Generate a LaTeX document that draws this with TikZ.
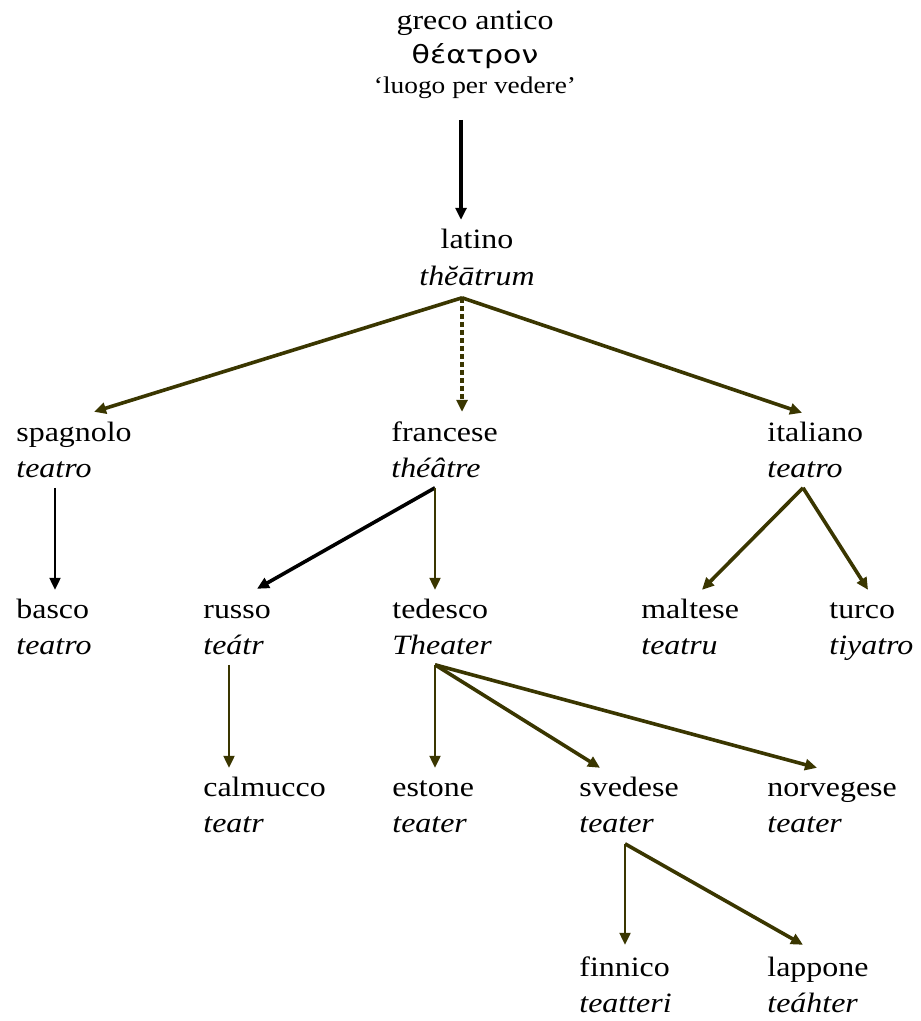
\documentclass[tikz,border=0pt]{standalone}
\usepackage{fontspec}
\setmainfont[FakeStretch=1.14]{Liberation Serif}
\newfontfamily\greekfont[FakeStretch=1.2]{DejaVu Sans}
\usetikzlibrary{arrows.meta,calc}
\definecolor{arrowolive}{RGB}{58,54,0}
\begin{document}
\begin{tikzpicture}[x=0.5pt,y=-0.5pt,
  lang/.style={anchor=north west, inner sep=0pt, align=left, font=\fontsize{14}{18}\selectfont},
  head/.style={anchor=north, inner sep=0pt, align=center, font=\fontsize{14}{18}\selectfont},
  conn/.style={-{Triangle[length=6pt,width=5.5pt]}},
  heavy/.style={conn, line width=1.8pt},
  light/.style={conn, line width=1.1pt},
  oli/.style={draw=arrowolive, -{Triangle[length=6pt,width=5.5pt,fill=arrowolive]}},
  blk/.style={draw=black}
]
\path[use as bounding box, fill=white] (0,0) rectangle (920,1021);

% nodes
\node[head] (greco) at (475,3.8) {\strut greco antico\\[-1pt]{\greekfont\fontsize{12.5}{18}\selectfont θέατρον}\\[-3pt]{\fontsize{12}{18}\selectfont ‘luogo per vedere’}};
\node[head] (latino) at (477,222.8) {\strut latino\\[0.5pt]\textit{thĕātrum}};

\node[lang] (spagnolo) at (16,415.8) {\strut spagnolo\\\textit{teatro}};
\node[lang] (francese) at (391,415.8) {\strut francese\\\textit{théâtre}};
\node[lang] (italiano) at (767,415.8) {\strut italiano\\\textit{teatro}};

\node[lang] (basco) at (16,592.8) {\strut basco\\\textit{teatro}};
\node[lang] (russo) at (203,592.8) {\strut russo\\\textit{teátr}};
\node[lang] (tedesco) at (392,592.8) {\strut tedesco\\\textit{Theater}};
\node[lang] (maltese) at (641,592.8) {\strut maltese\\\textit{teatru}};
\node[lang] (turco) at (829,592.8) {\strut turco\\\textit{tiyatro}};

\node[lang] (calmucco) at (203,770.8) {\strut calmucco\\\textit{teatr}};
\node[lang] (estone) at (392,770.8) {\strut estone\\\textit{teater}};
\node[lang] (svedese) at (579,770.8) {\strut svedese\\\textit{teater}};
\node[lang] (norvegese) at (767,770.8) {\strut norvegese\\\textit{teater}};

\node[lang] (finnico) at (579,950.8) {\strut finnico\\\textit{teatteri}};
\node[lang] (lappone) at (767,950.8) {\strut lappone\\\textit{teáhter}};

% connectors
\draw[conn, line width=2pt, blk] ($(greco.north)+(-14,116)$) -- ($(latino.north)+(-16,-3)$);

\coordinate (latapex) at ($(latino.north)+(-15,75)$);
\draw[heavy, oli] (latapex) -- ($(spagnolo.north west)+(78,-4)$);
\draw[heavy, oli, dash pattern=on 2.5pt off 1.5pt] (latapex) -- ($(francese.north west)+(71,-4)$);
\draw[heavy, oli] (latapex) -- ($(italiano.north west)+(35,-3)$);

\draw[light, blk] ($(spagnolo.north west)+(39,72)$) -- ($(basco.north west)+(39,-3)$);

\coordinate (frapex) at ($(francese.north west)+(44,72)$);
\draw[heavy, blk] (frapex) -- ($(russo.north west)+(54,-4)$);
\draw[light, oli] (frapex) -- ($(tedesco.north west)+(43,-3)$);

\coordinate (itapex) at ($(italiano.north west)+(36,72)$);
\draw[heavy, oli] (itapex) -- ($(maltese.north west)+(61,-3)$);
\draw[heavy, oli] (itapex) -- ($(turco.north west)+(39,-3)$);

\draw[light, oli] ($(russo.north west)+(26,72)$) -- ($(calmucco.north west)+(26,-3)$);

\coordinate (tedapex) at ($(tedesco.north west)+(43,72)$);
\draw[light, oli] (tedapex) -- ($(estone.north west)+(43,-3)$);
\draw[heavy, oli] (tedapex) -- ($(svedese.north west)+(21,-3)$);
\draw[heavy, oli] (tedapex) -- ($(norvegese.north west)+(50,-3)$);

\coordinate (svapex) at ($(svedese.north west)+(46,73)$);
\draw[light, oli] (svapex) -- ($(finnico.north west)+(46,-6)$);
\draw[heavy, oli] (svapex) -- ($(lappone.north west)+(36,-6)$);
\end{tikzpicture}
\end{document}
